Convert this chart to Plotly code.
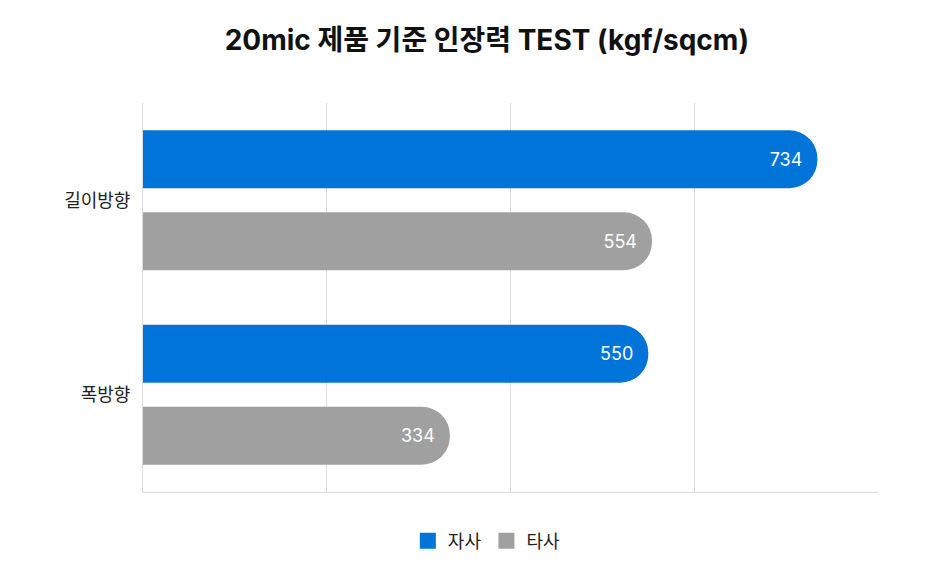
import plotly.graph_objects as go

categories = ["길이방향", "폭방향"]
series_names = ["자사", "타사"]
ours = [734, 550]
theirs = [554, 334]
colors = ["#0074d9", "#a0a0a0"]

font_family = "Inter, 'Noto Sans CJK KR', sans-serif"

fig = go.Figure()
for name, vals, col in zip(series_names, [ours, theirs], colors):
    fig.add_trace(go.Bar(
        y=categories, x=vals, name=name, orientation="h",
        marker=dict(color=col, line=dict(width=0)),
        text=[f"{v}\u00a0\u00a0" for v in vals],
        textposition="inside", insidetextanchor="end",
        textfont=dict(color="white", size=18, family=font_family),
        hoverinfo="x+name", showlegend=False,
    ))
# legend entries with larger square swatches
for name, col in zip(series_names, colors):
    fig.add_trace(go.Scatter(
        x=[None], y=[None], mode="markers", name=name,
        marker=dict(symbol="square", size=16, color=col),
        showlegend=True,
    ))

W, H = 928, 557
fig.update_layout(
    width=W, height=H,
    barmode="group", bargap=0.157, bargroupgap=0.293,
    barcornerradius="50%",
    margin=dict(l=135, r=58, t=95, b=73),
    paper_bgcolor="white", plot_bgcolor="white",
    font=dict(family=font_family, color="#222"),
    title=dict(text="<b>20mic 제품 기준 인장력 TEST (kgf/sqcm)</b>",
               x=0.516, xref="container", xanchor="center",
               y=1 - 32 / H, yref="container", yanchor="middle",
               font=dict(size=28, color="#111", family=font_family)),
    legend=dict(orientation="h", x=0.516, xref="container", xanchor="center",
                y=1 - 533 / H, yref="container", yanchor="middle",
                font=dict(size=18, color="#222"), itemwidth=30,
                itemsizing="trace", traceorder="normal"),
    xaxis=dict(range=[0, 800], tickvals=[0, 200, 400, 600, 800],
               showticklabels=False, showgrid=True, gridcolor="#dddddd",
               gridwidth=1, zeroline=False, showline=True,
               linecolor="#dddddd", linewidth=1, fixedrange=True),
    yaxis=dict(autorange="reversed", showgrid=False, showline=True,
               linecolor="#dddddd", linewidth=1, ticks="",
               ticklabelstandoff=8,
               tickfont=dict(size=18, color="#222")),
)

fig.write_html("out.html")
